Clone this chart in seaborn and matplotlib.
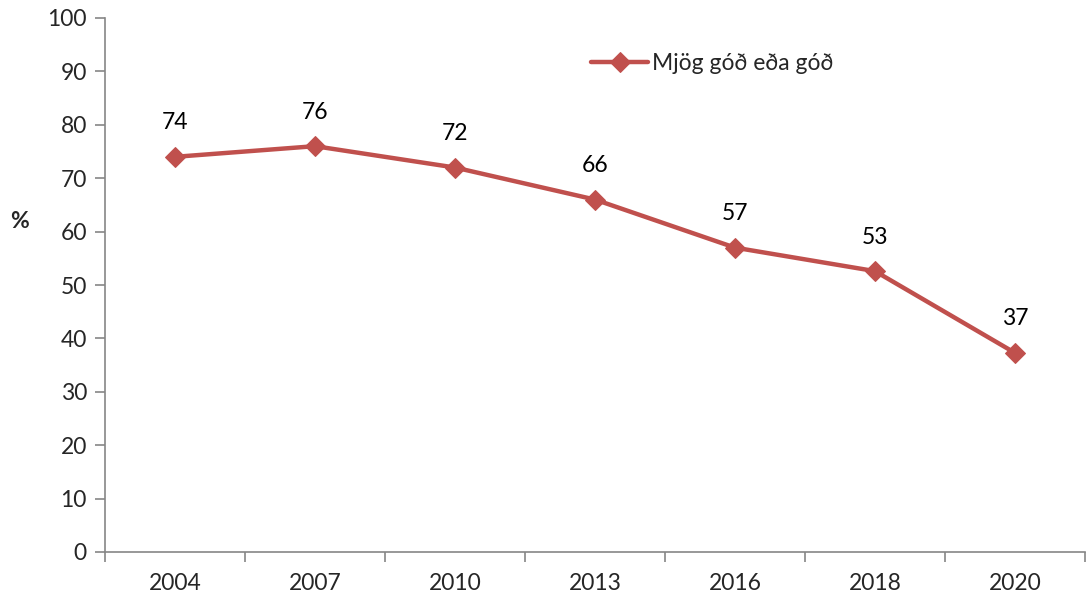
import matplotlib.pyplot as plt
import seaborn as sns
import pandas as pd

# Data
years = ["2004", "2007", "2010", "2013", "2016", "2018", "2020"]
values = [74.0, 76.0, 72.0, 66.0, 57.0, 52.6, 37.3]
labels = ["74", "76", "72", "66", "57", "53", "37"]
series_name = "Mjög góð eða góð"

sns.set_theme(style="white")
plt.rcParams["font.family"] = ["Lato", "DejaVu Sans"]

df = pd.DataFrame({"year": years, "value": values})

fig = plt.figure(figsize=(10.9, 6), dpi=100)
ax = fig.add_axes([0.0963, 0.08, 0.899, 0.89])

red = "#C0504D"
sns.lineplot(data=df, x="year", y="value", ax=ax, color=red, linewidth=3.2,
             marker="D", markersize=10, markeredgecolor=red, label=series_name,
             sort=False)

for i, (v, t) in enumerate(zip(values, labels)):
    ax.annotate(t, (i, v), xytext=(0, 17), textcoords="offset points",
                ha="center", va="bottom", fontsize=16.5, color="black")

ax.set_xlim(-0.5, len(years) - 0.5)
ax.set_ylim(0, 100)
ax.set_yticks(range(0, 101, 10))
ax.set_xticks([i - 0.5 for i in range(len(years) + 1)], minor=False)
ax.set_xticklabels([])
ax.set_xticks(range(len(years)), minor=True)
ax.set_xticklabels(years, minor=True)
ax.tick_params(axis="x", which="major", direction="out", length=7, width=1.2,
               color="#868686", bottom=True)
ax.tick_params(axis="x", which="minor", length=0, pad=15, labelsize=16.5)
ax.tick_params(axis="y", direction="out", length=7, width=1.2, color="#868686",
               left=True, labelsize=16.5, pad=6)

for s in ["top", "right"]:
    ax.spines[s].set_visible(False)
for s in ["left", "bottom"]:
    ax.spines[s].set_color("#868686")
    ax.spines[s].set_linewidth(1.2)

ax.set_xlabel("")
ax.set_ylabel("%", rotation=0, fontsize=16.5, fontweight="bold")
ax.yaxis.set_label_coords(-0.087, 0.6)

leg = ax.legend(loc="center left", bbox_to_anchor=(0.475, 0.915), frameon=False,
                fontsize=16.5, handlelength=2.5, handletextpad=0.15)

fig.savefig("out.png", dpi=100)
